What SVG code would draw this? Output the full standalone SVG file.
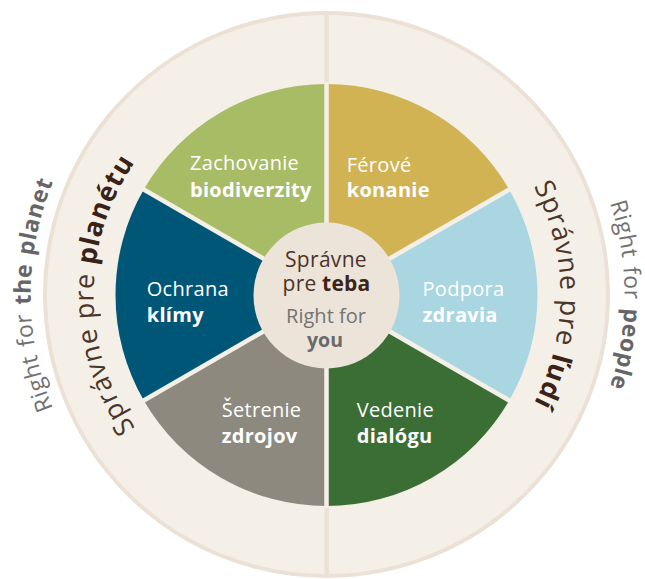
<svg xmlns="http://www.w3.org/2000/svg" width="645" height="579" viewBox="0 0 645 579">
<style>
text{font-family:"Open Sans","Noto Sans","Liberation Sans",sans-serif}
.seg{font-size:20px;fill:#ffffff;letter-spacing:0.3px}
.b{font-weight:700}
.arcIn{font-size:27px;fill:#4b3428;letter-spacing:1px}
.arcIn .b{fill:#3b2216}
.arcOut{font-size:23px;fill:#717171;letter-spacing:0.5px;word-spacing:2px}
.arcOut .b{fill:#666666}
.ctr{text-anchor:middle}
.dark{fill:#4a3328}
.darkb{fill:#3d2418;font-weight:700}
.grey{fill:#737373}
.greyb{fill:#6a6a6a;font-weight:700}
.gap{stroke:#f4f0e8;stroke-width:4.5;fill:none}
</style>
<defs>
<path id="pInL" d="M 210,496.8 A 233 233 0 0 1 210,93.2"/>
<path id="pInR" d="M 443.5,92.35 A 234 234 0 0 1 443.5,497.65"/>
<path id="pOutL" d="M 178.5,551.3 A 296 296 0 0 1 178.5,38.7"/>
<path id="pOutR" d="M 475.5,36.9 A 298 298 0 0 1 475.5,553.1"/>
</defs>

<g id="ring">
<circle cx="326.5" cy="294.5" r="281.5" fill="#f4f0e8" stroke="#ebe1d5" stroke-width="4"/>
<line x1="326.7" y1="12" x2="326.7" y2="577" stroke="#ebe2d6" stroke-width="4.5"/>
</g>

<g id="seg-biodiverzity">
<path d="M326.5,295 L143.77,189.5 A211,211 0 0 1 326.5,84 Z" fill="#a8bb65"/>
<text class="seg" x="190" y="170">Zachovanie</text>
<text class="seg b" x="190" y="196.7">biodiverzity</text>
</g>
<g id="seg-konanie">
<path d="M326.5,295 L326.5,84 A211,211 0 0 1 509.23,189.5 Z" fill="#d2b354"/>
<text class="seg" x="346.7" y="171.7">Férové</text>
<text class="seg b" x="346.7" y="196.7">konanie</text>
</g>
<g id="seg-zdravia">
<path d="M326.5,295 L509.23,189.5 A211,211 0 0 1 509.23,400.5 Z" fill="#aad6e2"/>
<text class="seg" x="422.5" y="296">Podpora</text>
<text class="seg b" x="422.5" y="321.7">zdravia</text>
</g>
<g id="seg-dialogu">
<path d="M326.5,295 L509.23,400.5 A211,211 0 0 1 326.5,506 Z" fill="#3a6e34"/>
<text class="seg" x="356.7" y="416.7">Vedenie</text>
<text class="seg b" x="356.7" y="443.3">dialógu</text>
</g>
<g id="seg-zdrojov">
<path d="M326.5,295 L326.5,506 A211,211 0 0 1 143.77,400.5 Z" fill="#8d897e"/>
<text class="seg" x="221.7" y="416.7">Šetrenie</text>
<text class="seg b" x="221.7" y="443.3">zdrojov</text>
</g>
<g id="seg-klimy">
<path d="M326.5,295 L143.77,400.5 A211,211 0 0 1 143.77,189.5 Z" fill="#005677"/>
<text class="seg" x="146.7" y="296">Ochrana</text>
<text class="seg b" x="146.7" y="321.7">klímy</text>
</g>

<g id="connectors">
<line class="gap" x1="326.5" y1="295" x2="326.5" y2="82"/>
<line class="gap" x1="326.5" y1="295" x2="326.5" y2="508"/>
<line class="gap" x1="326.5" y1="295" x2="511" y2="188.5"/>
<line class="gap" x1="326.5" y1="295" x2="511" y2="401.5"/>
<line class="gap" x1="326.5" y1="295" x2="142" y2="188.5"/>
<line class="gap" x1="326.5" y1="295" x2="142" y2="401.5"/>
</g>

<g id="center">
<circle cx="326.5" cy="295.5" r="73" fill="#ede4d9"/>
<text class="ctr dark" x="326" y="266.7" font-size="21" letter-spacing="0.3">Správne</text>
<text class="ctr dark" x="326.5" y="291" font-size="21" letter-spacing="0.2">pre <tspan class="darkb">teba</tspan></text>
<text class="ctr grey" x="326" y="323.3" font-size="20">Right for</text>
<text class="ctr greyb" x="325" y="346.7" font-size="19.5">you</text>
</g>

<g id="label-planetu">
<text class="arcIn"><textPath href="#pInL" startOffset="50%" text-anchor="middle">Správne pre <tspan class="b">planétu</tspan></textPath></text>
</g>
<g id="label-ludi">
<text class="arcIn"><textPath href="#pInR" startOffset="50%" text-anchor="middle">Správne pre <tspan class="b">ľudí</tspan></textPath></text>
</g>
<g id="label-planet">
<text class="arcOut"><textPath href="#pOutL" startOffset="50%" text-anchor="middle">Right for <tspan class="b">the planet</tspan></textPath></text>
</g>
<g id="label-people">
<text class="arcOut"><textPath href="#pOutR" startOffset="50%" text-anchor="middle">Right for <tspan class="b">people</tspan></textPath></text>
</g>
</svg>
